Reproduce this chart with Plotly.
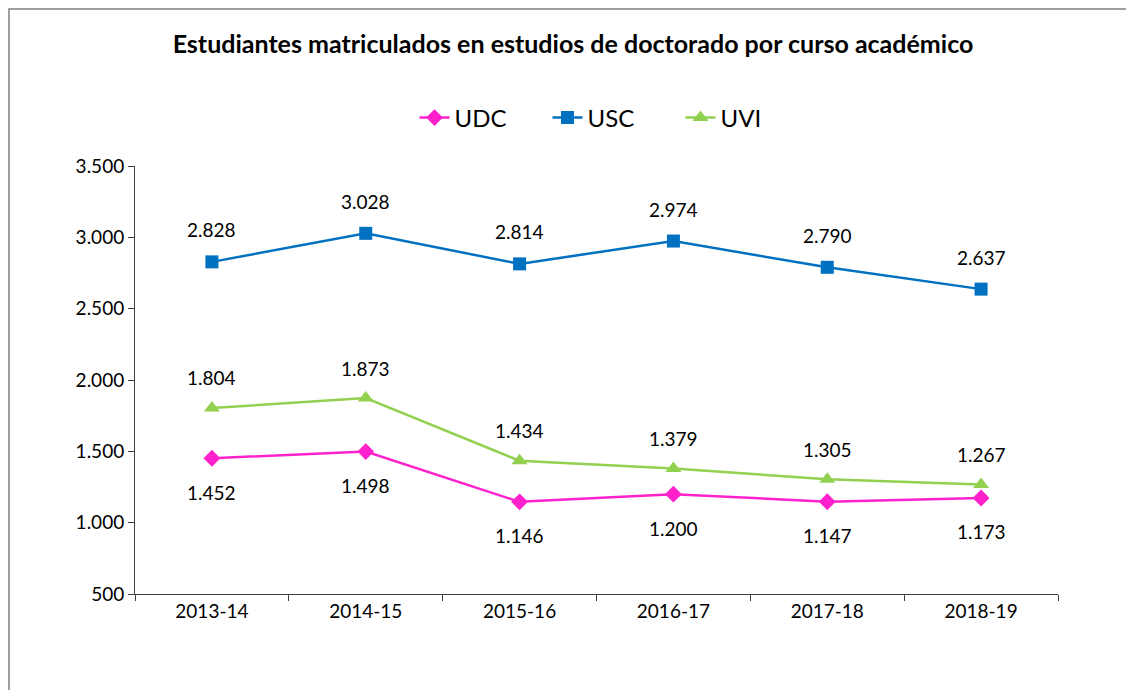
import plotly.graph_objects as go

categories = ["2013-14", "2014-15", "2015-16", "2016-17", "2017-18", "2018-19"]
udc = [1452, 1498, 1146, 1200, 1147, 1173]
usc = [2828, 3028, 2814, 2974, 2790, 2637]
uvi = [1804, 1873, 1434, 1379, 1305, 1267]
y_ticks = [500, 1000, 1500, 2000, 2500, 3000, 3500]

FONT = "Lato"
OX, OY = 8, 8  # page body margin
W, H = 1134 - 2 * OX, 698 - 2 * OY
# target screen positions of the plot area
SL, SR, ST, SB = 135, 1058, 166, 594
L, R, T, B = SL - OX, SR - OX, ST - OY, SB - OY

def fmt(v):
    return f"{v:,}".replace(",", ".")

series = [
    ("UDC", udc, "#FF22CC", "diamond", 13, -34),
    ("USC", usc, "#0070C0", "square", 13, 32),
    ("UVI", uvi, "#92D050", "triangle-up", 14, 30),
]

fig = go.Figure()
annotations = []
for name, vals, color, sym, size, shift in series:
    fig.add_trace(go.Scatter(
        x=categories, y=vals, name=name, mode="lines+markers",
        line=dict(color=color, width=2.5),
        marker=dict(symbol=sym, size=size, color=color),
    ))
    for c, v in zip(categories, vals):
        annotations.append(dict(x=c, y=v, xref="x", yref="y", text=fmt(v),
                                showarrow=False, yshift=shift,
                                font=dict(family=FONT, size=19, color="#000000")))

def px(xs):
    return (xs - OX - L) / (R - L)

def py(ys):
    return (B - (ys - OY)) / (B - T)

fig.update_layout(
    width=W, height=H,
    margin=dict(l=L, r=W - R, t=T, b=H - B),
    paper_bgcolor="white", plot_bgcolor="white",
    separators=",.",
    title=dict(text="<b>Estudiantes matriculados en estudios de doctorado por curso académico</b>",
               x=(573 - OX) / W, xanchor="center", y=1 - (44 - OY) / H, yanchor="middle",
               font=dict(family=FONT, size=25, color="#000000")),
    legend=dict(orientation="h", x=px(614), xanchor="center", y=py(118), yanchor="middle",
                font=dict(family=FONT, size=24, color="#000000"),
                entrywidth=88, traceorder="normal"),
    xaxis=dict(type="category", range=[-0.5, len(categories) - 0.5],
               showgrid=False, showline=True, linecolor="#404040", linewidth=1,
               ticks="outside", tickson="boundaries", ticklen=6, tickcolor="#404040",
               tickfont=dict(family=FONT, size=19, color="#000000")),
    yaxis=dict(range=[500, 3500], tickvals=y_ticks, ticktext=[fmt(v) for v in y_ticks],
               showgrid=False, showline=True, linecolor="#404040", linewidth=1,
               ticks="outside", ticklen=6, tickcolor="#404040", zeroline=False,
               tickfont=dict(family=FONT, size=19, color="#000000")),
    annotations=annotations,
    shapes=[dict(type="rect", xref="paper", yref="paper",
                 x0=px(OX + 1), x1=px(1160), y0=py(720), y1=py(OY + 1),
                 line=dict(color="#7f7f7f", width=1.5), layer="below")],
)

fig.write_html("out.html")
